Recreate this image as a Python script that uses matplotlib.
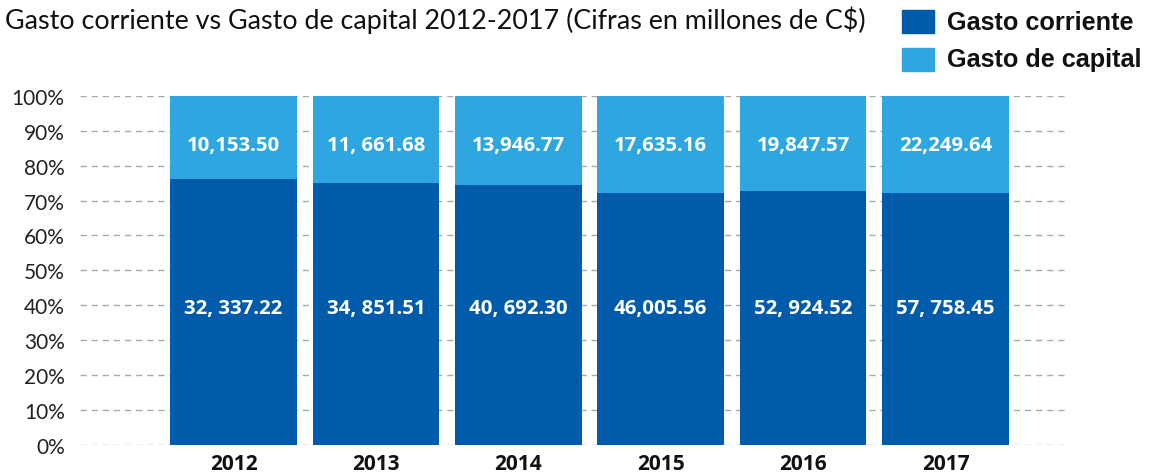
import matplotlib
matplotlib.use("Agg")
import matplotlib.pyplot as plt
import numpy as np

years = ["2012", "2013", "2014", "2015", "2016", "2017"]
gasto_corriente = [32337.22, 34851.51, 40692.30, 46005.56, 52924.52, 57758.45]
gasto_capital = [10153.50, 11661.68, 13946.77, 17635.16, 19847.57, 22249.64]
corriente_labels = ["32, 337.22", "34, 851.51", "40, 692.30", "46,005.56", "52, 924.52", "57, 758.45"]
capital_labels = ["10,153.50", "11, 661.68", "13,946.77", "17,635.16", "19,847.57", "22,249.64"]
y_ticks = [0, 10, 20, 30, 40, 50, 60, 70, 80, 90, 100]

c_dark = "#005BAB"
c_light = "#2EA7E0"

corr = np.array(gasto_corriente)
cap = np.array(gasto_capital)
total = corr + cap
pct_corr = corr / total * 100
pct_cap = cap / total * 100

fig = plt.figure(figsize=(11.54, 4.77), dpi=100)
ax = fig.add_axes([80 / 1154, 31.3 / 477, 986 / 1154, 348.7 / 477])

x = np.arange(len(years))
ax.bar(x, pct_corr, width=0.89, color=c_dark, zorder=3)
ax.bar(x, pct_cap, bottom=pct_corr, width=0.89, color=c_light, zorder=3)

for xi, lc, lk in zip(x, corriente_labels, capital_labels):
    ax.text(xi, 39.2, lc, ha="center", va="center", color="white",
            fontsize=14.7, fontweight="bold", family="Open Sans", zorder=4)
    ax.text(xi, 86, lk, ha="center", va="center", color="white",
            fontsize=14.7, fontweight="bold", family="Open Sans", zorder=4)

ax.set_xlim(-1.078, 5.846)
ax.set_ylim(0, 100)
ax.set_yticks(y_ticks)
ax.set_yticklabels([f"{t}%" for t in y_ticks], family="Lato", fontweight="normal",
                   fontsize=15, color="#222222")
ax.set_xticks(x)
ax.set_xticklabels(years, family="Open Sans", fontweight="bold", fontsize=15, color="#111111")
ax.tick_params(axis="y", length=0, pad=11)
ax.tick_params(axis="x", length=0, pad=6)
ax.yaxis.grid(True, color="#aaaaaa", linestyle=(0, (4.5, 3.5)), linewidth=1.0, zorder=0)
ax.set_axisbelow(True)
for s in ax.spines.values():
    s.set_visible(False)

fig.text(5 / 1154, 1 - 20 / 477, "Gasto corriente vs Gasto de capital 2012-2017 (Cifras en millones de C$)",
         ha="left", va="center", fontsize=19.4, family="Lato", fontweight="normal", color="#111111")

# legend entries
for i, (lab, col) in enumerate([("Gasto corriente", c_dark), ("Gasto de capital", c_light)]):
    yc = 22.5 + i * 38
    fig.patches.append(plt.Rectangle((902 / 1154, 1 - (yc + 11.5) / 477), 32 / 1154, 23 / 477,
                                     transform=fig.transFigure, color=col, figure=fig))
    fig.text(947 / 1154, 1 - yc / 477, lab, ha="left", va="center", fontsize=18.2,
             family="Liberation Sans", fontweight="bold", color="#111111")

fig.savefig("out.png", dpi=100)
